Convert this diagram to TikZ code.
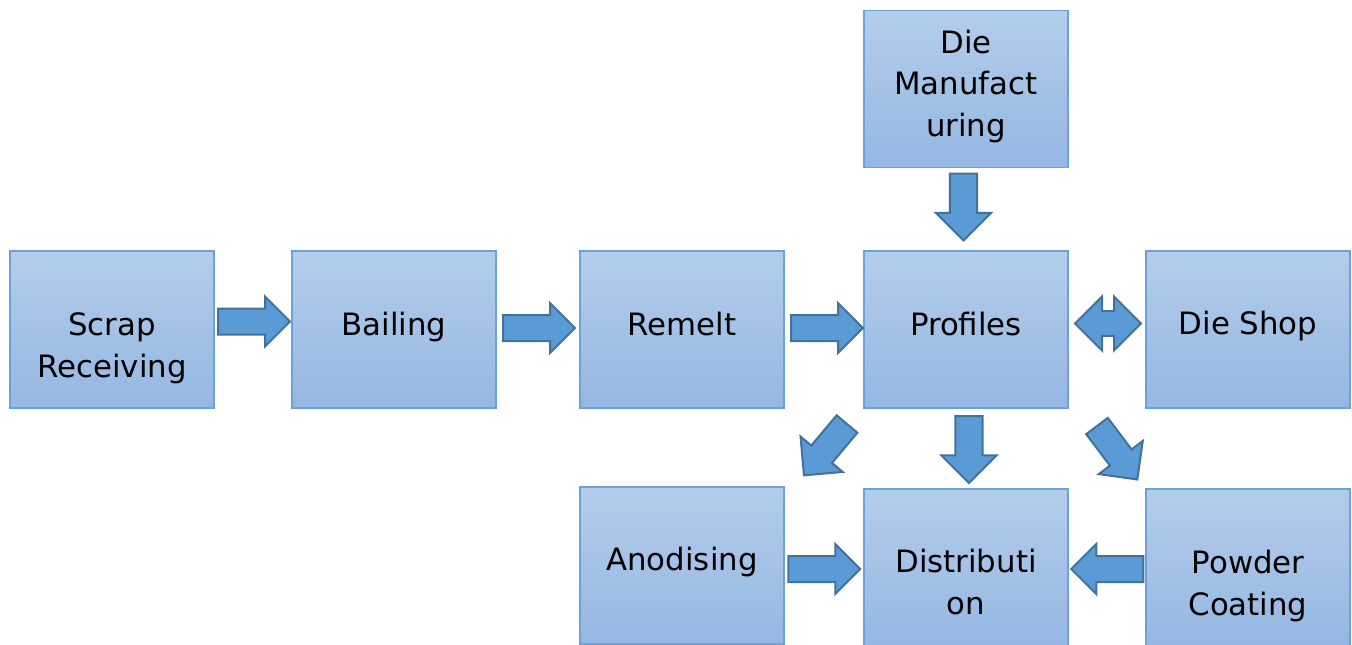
\documentclass[tikz,border=0pt]{standalone}
\usepackage{fontspec}
\setmainfont{DejaVu Sans}
\usetikzlibrary{shapes.arrows,calc}
\definecolor{boxtop}{HTML}{B3CDEB}
\definecolor{boxbot}{HTML}{95B7E2}
\definecolor{boxline}{HTML}{6FA1D9}
\definecolor{arrfill}{HTML}{5B9BD5}
\definecolor{arrline}{HTML}{41719C}
\begin{document}
\begin{tikzpicture}[x=0.75pt,y=-0.75pt,
  stage/.style={rectangle, draw=boxline, line width=1.1pt,
    top color=boxtop, bottom color=boxbot,
    minimum width=153pt, minimum height=117.75pt, inner sep=0pt, outer sep=0pt},
  caption/.style={anchor=base, align=center, inner sep=0pt,
    font=\fontsize{23.1pt}{31.3pt}\selectfont},
  blockarrow/.style={draw=arrline, fill=arrfill, line width=1.5pt,
    inner xsep=0pt, outer sep=0pt},
  % arrows: minimum height runs along the arrow, inner ysep sets half the shaft
  flowH/.style={blockarrow, single arrow, anchor=tail, inner ysep=9pt,
    minimum height=54pt, minimum width=36pt, single arrow head extend=9pt},
  flowV/.style={blockarrow, single arrow, anchor=tail, inner ysep=9.4pt,
    minimum height=50.25pt, minimum width=39.75pt, single arrow head extend=10.5pt},
  flowD/.style={blockarrow, double arrow, inner ysep=8.6pt,
    minimum height=49.5pt, minimum width=39pt, double arrow head extend=10.9pt}
]
\useasboundingbox (0,0) rectangle (1352,644);

% process stages
\node[stage] (diem)   at (966,89)     {};
\node[stage] (scrap)  at (112,329.5)  {};
\node[stage] (bail)   at (394,329.5)  {};
\node[stage] (remelt) at (682,329.5)  {};
\node[stage] (prof)   at (966,329.5)  {};
\node[stage] (dshop)  at (1248,329.5) {};
\node[stage] (anod)   at (682,565.5)  {};
\node[stage] (dist)   at (966,567.5)  {};
\node[stage] (powder) at (1248,567.5) {};

% stage captions (base = baseline of the last line)
\node[caption] (diemT)   at ($(diem.center)+(0,47.7)$)   {Die\\Manufact\\uring};
\node[caption] (scrapT)  at ($(scrap.center)+(0,47.5)$)  {Scrap\\Receiving};
\node[caption] (bailT)   at ($(bail.center)+(0,5.5)$)    {Bailing};
\node[caption] (remeltT) at ($(remelt.center)+(0,5.5)$)  {Remelt};
\node[caption] (profT)   at ($(prof.center)+(0,5.5)$)    {Profiles};
\node[caption] (dshopT)  at ($(dshop.center)+(0,5)$)     {Die Shop};
\node[caption] (anodT)   at ($(anod.center)+(0,5.2)$)    {Anodising};
\node[caption] (distT)   at ($(dist.center)+(0,46.5)$)   {Distributi\\on};
\node[caption] (powderT) at ($(powder.center)+(0,47.5)$) {Powder\\Coating};

% material flow, each arrow starting next to its source stage
\node[flowH] (a1) at ($(scrap.east)+(4,-8)$) {};
\node[flowH] (a2) at ($(bail.east)+(7,-1.5)$) {};
\node[flowH] (a3) at ($(remelt.east)+(7,-1.5)$) {};
\node[flowV, rotate=270] (a4) at ($(diem.south)+(-2.5,6)$) {};
\node[flowD] (a5) at ($(prof.east)!.5!(dshop.west)+(1,-6)$) {};
\node[flowV, rotate=270] (a6) at ($(prof.south)+(3,8)$) {};
\node[flowV, rotate=230] (a7) at ($(prof.south west)+(-17,16)$) {};
\node[flowV, rotate=307] (a8) at ($(prof.south east)+(29,18)$) {};
\node[flowH] (a9) at ($(anod.east)+(4.3,3.5)$) {};
\node[flowH, rotate=180] (a10) at ($(powder.west)+(-2.7,1.5)$) {};
\end{tikzpicture}
\end{document}
